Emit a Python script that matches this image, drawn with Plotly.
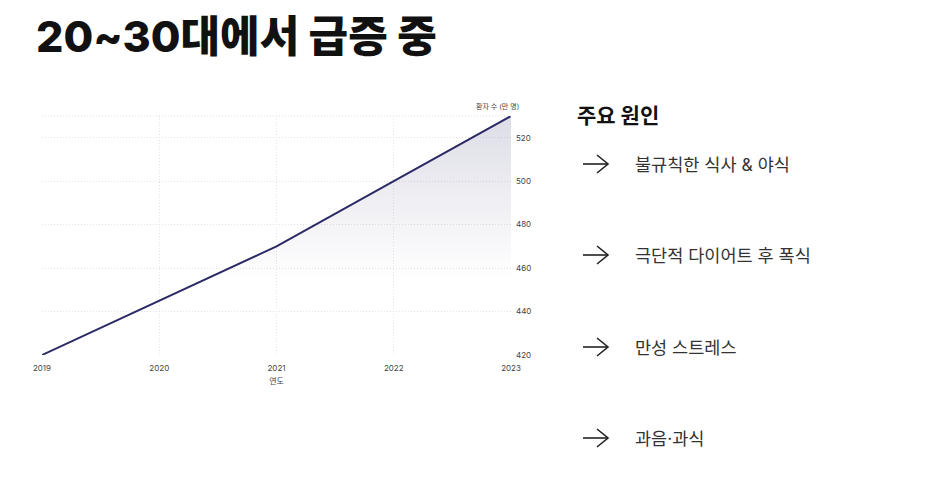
import plotly.graph_objects as go

years = [2019, 2020, 2021, 2022, 2023]
patients = [420, 445, 470, 500, 530]
y_ticks = [420, 440, 460, 480, 500, 520]
title_text = "20~30대에서 급증 중"
side_title = "주요 원인"
causes = ["불규칙한 식사 & 야식", "극단적 다이어트 후 폭식", "만성 스트레스", "과음·과식"]

OFF = 8  # page body margin
W, H = 917, 469
L, R, T, B = 42 - OFF, 511 - OFF, 116 - OFF, 355 - OFF
PW, PH = R - L, B - T

def px(x):
    return (x - OFF - L) / PW

def py(y):
    return (B - (y - OFF)) / PH

FONT = "Inter, Noto Sans CJK KR, sans-serif"
LINE = "#2b2a66"

fig = go.Figure()
fig.add_trace(go.Scatter(
    x=years, y=patients, mode="lines",
    line=dict(color=LINE, width=2),
    fill="tozeroy",
    fillgradient=dict(type="vertical", start=455, stop=530,
                      colorscale=[[0, "rgba(43,42,102,0)"], [1, "rgba(43,42,102,0.16)"]]),
    hoverinfo="skip", showlegend=False,
))

grid = dict(showgrid=True, gridcolor="#e3e3e3", griddash="1px,2px", gridwidth=1, zeroline=False)
fig.update_xaxes(range=[2019, 2023], tickvals=years, ticktext=[str(v) for v in years],
                 tickfont=dict(size=8, color="#444", family=FONT), ticks="", showline=False,
                 ticklabelstandoff=7,
                 title=dict(text="연도", font=dict(size=8, color="#444", family=FONT), standoff=6),
                 **grid)
fig.update_yaxes(range=[420, 530], tickvals=y_ticks, side="right",
                 tickfont=dict(size=8, color="#444", family=FONT), ticks="", showline=False,
                 ticklabelstandoff=4,
                 **grid)

shapes = [dict(type="line", xref="paper", yref="paper", x0=0, x1=1, y0=1, y1=1,
               line=dict(color="#e3e3e3", width=1, dash="1px,2px"))]
annotations = [
    dict(text=title_text, xref="paper", yref="paper", x=px(34), y=py(8), xanchor="left", yanchor="top",
         showarrow=False, font=dict(size=43, color="#111", family=FONT, weight=800)),
    dict(text="환자 수 (만 명)", xref="paper", yref="paper", x=px(521), y=py(107), xanchor="right", yanchor="middle",
         showarrow=False, font=dict(size=7, color="#444", family=FONT)),
    dict(text=side_title, xref="paper", yref="paper", x=px(575), y=py(115), xanchor="left", yanchor="middle",
         showarrow=False, font=dict(size=21, color="#111", family=FONT, weight="bold")),
]
item_y = [164, 255, 347, 438]
for yy, txt in zip(item_y, causes):
    annotations.append(dict(text=txt, xref="paper", yref="paper", x=px(633), y=py(yy), xanchor="left",
                            yanchor="middle", showarrow=False,
                            font=dict(size=17.5, color="#333", family=FONT)))
    shapes.append(dict(type="line", xref="paper", yref="paper", x0=px(583), x1=px(608), y0=py(yy), y1=py(yy),
                       line=dict(color="#222", width=1.6)))
    shapes.append(dict(type="path", xref="paper", yref="paper",
                       path=f"M {px(597)} {py(yy-9)} L {px(608)} {py(yy)} L {px(597)} {py(yy+9)}",
                       line=dict(color="#222", width=1.6)))

fig.update_layout(
    width=W, height=H, margin=dict(l=L, r=W - R, t=T, b=H - B),
    paper_bgcolor="white", plot_bgcolor="white",
    shapes=shapes, annotations=annotations,
    font=dict(family=FONT),
)
fig.write_html("out.html")
